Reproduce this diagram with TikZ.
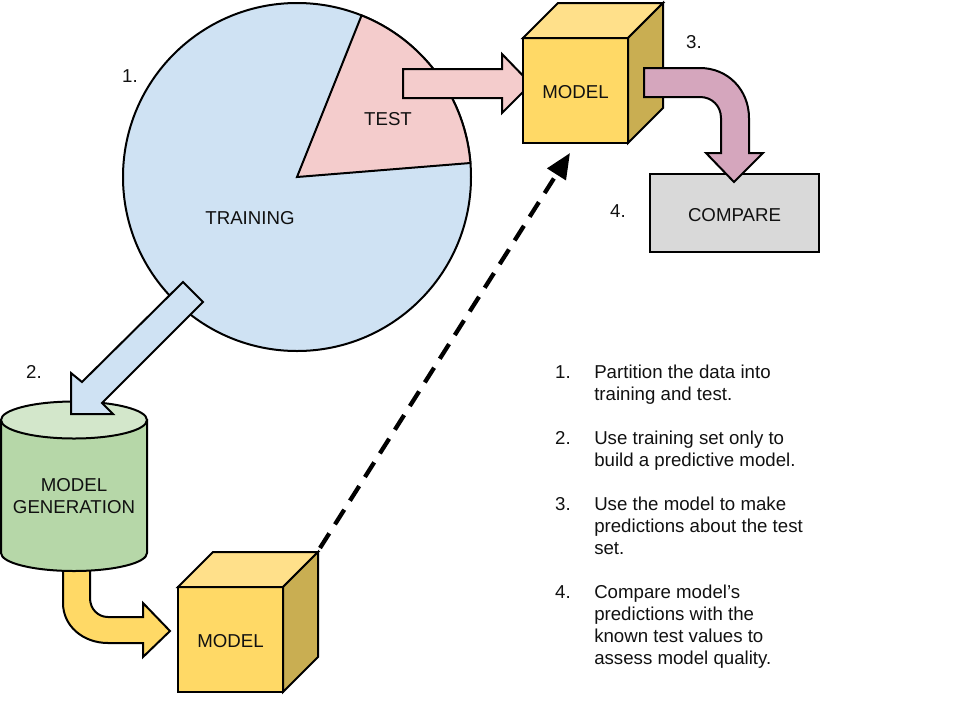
\documentclass[tikz,border=0pt]{standalone}
\usepackage{fontspec}
\setmainfont{Liberation Sans}
\usetikzlibrary{arrows.meta}
\definecolor{cblue}{HTML}{CFE2F3}
\definecolor{cpink}{HTML}{F4CCCC}
\definecolor{cyel}{HTML}{FFD966}
\definecolor{cyeltop}{HTML}{FFE08A}
\definecolor{cyelside}{HTML}{C9AE52}
\definecolor{cgreen}{HTML}{B6D7A8}
\definecolor{cgreentop}{HTML}{D3E7CB}
\definecolor{cgrey}{HTML}{D9D9D9}
\definecolor{cpurple}{HTML}{D5A6BD}
\definecolor{cink}{HTML}{111111}
\tikzset{
  x=0.75pt,y=-0.75pt,
  outline/.style={draw=black,line width=1.5pt,line join=miter,miter limit=4},
  lbl/.style={font=\fontsize{14pt}{16.5pt}\selectfont,text=cink,inner sep=0pt,align=center},
  listtxt/.style={font=\fontsize{14pt}{16.5pt}\selectfont,text=cink,inner sep=0pt,align=left,anchor=north west},
}
\newcommand{\cubeshape}[2]{%
  \path[outline,fill=cyel] (#1,#2) rectangle ++(105,105);
  \path[outline,fill=cyeltop] (#1,#2) -- ++(35,-35) -- ++(105,0) -- ++(-35,35) -- cycle;
  \path[outline,fill=cyelside] (#1+105,#2) -- ++(35,-35) -- ++(0,105) -- ++(-35,35) -- cycle;
}
\begin{document}
\begin{tikzpicture}
\useasboundingbox (0,0) rectangle (958,719);
% pie
\path[outline,fill=cblue] (297,177) circle[radius=174];
\path[outline,fill=cpink] (297,177) -- (361.6,15.4)
  arc[start angle=-68.2,delta angle=63.6,radius=174] -- cycle;
\node[lbl] (training) at (250,218) {TRAINING};
\node[lbl] (test) at (388,119) {TEST};
\node[lbl] (n1) at (130,76) {1.};
% pink arrow
\path[outline,fill=cpink] (403,69) -- (502,69) -- (502,54) -- (531,84) -- (502,113) -- (502,98) -- (403,98) -- cycle;
% top cube
\cubeshape{523}{38}
\node[lbl] (modelA) at (575.5,92) {MODEL};
% compare
\node[outline,fill=cgrey,minimum width=169*0.75pt,minimum height=78*0.75pt,lbl] (compare) at (734.5,213) {};
\node[lbl] (comparetxt) at (734.5,215) {COMPARE};
% purple arrow
\path[outline,fill=cpurple] (644,68) -- (700,68) .. controls (728,68) and (749,90) .. (749,118) -- (749,153) -- (763,153) -- (734,182) -- (706,153) -- (721,153) -- (721,118) .. controls (721,106) and (712,97) .. (700,97) -- (644,97) -- cycle;
\node[lbl] (n3) at (694,42) {3.};
\node[lbl] (n4) at (618,211) {4.};
% yellow arrow
\path[outline,fill=cyel] (63,565) -- (63,603) .. controls (63,626) and (83,643) .. (108,643) -- (143,643) -- (143,657) -- (170,631) -- (143,603) -- (143,617) -- (108,617) .. controls (98,617) and (90,609) .. (90,598) -- (90,565) -- cycle;
% cylinder
\path[outline,fill=cgreen] (1,420) -- (1,553) arc[start angle=180,end angle=0,x radius=73,y radius=18] -- (147,420) -- cycle;
\path[outline,fill=cgreentop] (74,420) ellipse[x radius=73,y radius=18.5];
\node[lbl] (gen) at (74,496) {MODEL\\GENERATION};
% blue arrow
\path[outline,fill=cblue] (183,282) -- (203,302) -- (102,403) -- (113,414) -- (71,414) -- (71,373) -- (82,382) -- cycle;
\node[lbl] (n2) at (34,372) {2.};
% bottom cube
\cubeshape{178}{587}
\node[lbl] (modelB) at (230.5,641) {MODEL};
% dashed connector
\coordinate (dashfrom) at (320,548);
\coordinate (dashto) at (570,153);
\draw[line width=3.2pt,dash pattern=on 13pt off 8pt,-{Triangle[length=19pt,width=16pt]}] (dashfrom) -- (dashto);
% list
\node[lbl,anchor=center] (l1) at (563,372) {1.};
\node[listtxt] (t1) at (594,365) {Partition the data into\\training and test.};
\node[lbl,anchor=center] (l2) at (563,438) {2.};
\node[listtxt] (t2) at (594,431) {Use training set only to\\build a predictive model.};
\node[lbl,anchor=center] (l3) at (563,504) {3.};
\node[listtxt] (t3) at (594,497) {Use the model to make\\predictions about the test\\set.};
\node[lbl,anchor=center] (l4) at (563,592) {4.};
\node[listtxt] (t4) at (594,585) {Compare model’s\\predictions with the\\known test values to\\assess model quality.};
\end{tikzpicture}
\end{document}
